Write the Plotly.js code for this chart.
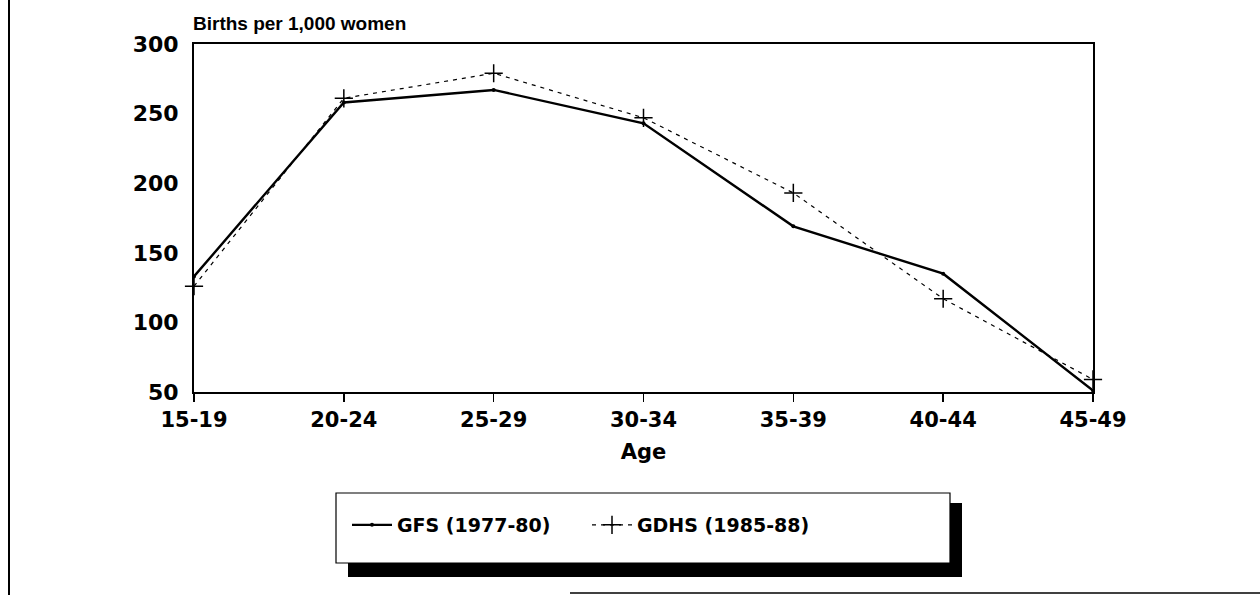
<!DOCTYPE html>
<html>
<head>
<meta charset="utf-8">
<script src="https://cdn.plot.ly/plotly-3.0.1.min.js"></script>
<style>
html,body{margin:0;padding:0;background:#fff;}
#chart{width:1260px;height:595px;}
</style>
</head>
<body>
<div id="chart"></div>
<script>
// ---- data ----
const ageGroups = ["15-19", "20-24", "25-29", "30-34", "35-39", "40-44", "45-49"];
const gfsRates  = [133, 258, 267, 243, 169, 135, 51];
const gdhsRates = [126, 261, 279, 247, 193, 117, 59];
const gfsName  = "GFS (1977-80)";
const gdhsName = "GDHS (1985-88)";
const yTicks = [50, 100, 150, 200, 250, 300];

// ---- layout geometry (pixels) ----
const W = 1260, H = 595;
const L = 194, R = 1093, T = 44, B = 392;
const pw = R - L, ph = B - T;
const px = x => (x - L) / pw;
const py = y => (B - y) / ph;

const fam = "DejaVu Sans, Verdana, sans-serif";
const boldFont = (size, family) => ({family: family || fam, size: size, color: "#000", weight: "bold"});

const traces = [
  {
    x: ageGroups, y: gfsRates, name: gfsName, type: "scatter", mode: "lines+markers",
    line: {color: "#000", width: 2.4},
    marker: {symbol: "circle", size: 4, color: "#000"},
    cliponaxis: false
  },
  {
    x: ageGroups, y: gdhsRates, name: gdhsName, type: "scatter", mode: "lines+markers",
    line: {color: "#000", width: 1.2, dash: "4px,5px"},
    marker: {symbol: "cross-thin", size: 13, color: "#000", line: {color: "#000", width: 1.5}},
    cliponaxis: false
  }
];

const layout = {
  width: W, height: H,
  margin: {l: L, r: W - R, t: T, b: H - B, pad: 0},
  paper_bgcolor: "#fff", plot_bgcolor: "#fff",
  font: boldFont(20),
  showlegend: true,
  legend: {
    orientation: "h", x: px(347), y: py(525), xanchor: "left", yanchor: "middle",
    bgcolor: "rgba(0,0,0,0)", borderwidth: 0,
    font: boldFont(19),
    entrywidth: 185, entrywidthmode: "pixels", itemwidth: 40
  },
  xaxis: {
    type: "category", range: [0, 6],
    showline: true, mirror: true, linecolor: "#000", linewidth: 2,
    ticks: "outside", ticklen: 8, tickwidth: 1.5, tickcolor: "#000",
    showgrid: false, zeroline: false,
    tickfont: boldFont(21),
    title: {text: "Age", font: boldFont(21), standoff: 13}
  },
  yaxis: {
    range: [50, 300], tickvals: yTicks, ticktext: yTicks.map(String),
    showline: true, mirror: true, linecolor: "#000", linewidth: 2,
    ticks: "", showgrid: false, zeroline: false,
    tickfont: boldFont(22),
    ticklabelstandoff: 9
  },
  annotations: [
    {
      text: "Births per 1,000 women", xref: "paper", yref: "paper",
      x: px(191), y: py(24), xanchor: "left", yanchor: "middle", showarrow: false,
      font: boldFont(19, "Liberation Sans, Arial, sans-serif")
    }
  ],
  shapes: [
    // legend shadow
    {type: "rect", xref: "paper", yref: "paper", x0: px(348), x1: px(962), y0: py(577), y1: py(503),
     fillcolor: "#000", line: {width: 0}, layer: "above"},
    // legend box
    {type: "rect", xref: "paper", yref: "paper", x0: px(336), x1: px(950), y0: py(563), y1: py(493),
     fillcolor: "#fff", line: {color: "#000", width: 1.2}, layer: "above"},
    // page border lines
    {type: "line", xref: "paper", yref: "paper", x0: px(9), x1: px(9), y0: py(0), y1: py(595),
     line: {color: "#000", width: 2}},
    {type: "line", xref: "paper", yref: "paper", x0: px(570), x1: px(1260), y0: py(593), y1: py(593),
     line: {color: "#000", width: 1.5}}
  ]
};

Plotly.newPlot("chart", traces, layout, {displayModeBar: false, staticPlot: true});
</script>
</body>
</html>
